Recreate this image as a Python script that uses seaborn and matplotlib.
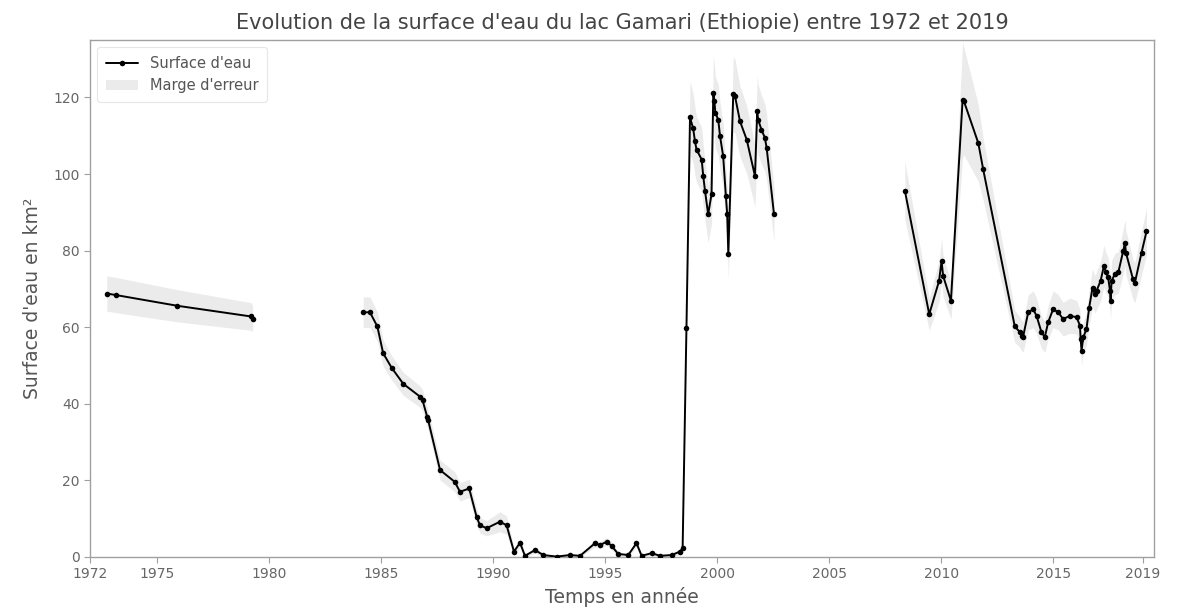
import numpy as np
import pandas as pd
import matplotlib
matplotlib.use("Agg")
import matplotlib.pyplot as plt
import seaborn as sns
from matplotlib.lines import Line2D
from matplotlib.patches import Patch

# Lake Gamari water surface (km²), three observation periods
years_1972 = [1972.75, 1973.16, 1975.90, 1979.20, 1979.26]
surface_1972 = [68.8, 68.4, 65.6, 62.8, 62.2]
error_1972 = [4.6, 4.6, 4.2, 3.6, 3.4]

years_1984 = [1984.20, 1984.50, 1984.83, 1985.09, 1985.47, 1985.99, 1986.73,
              1986.85, 1987.06, 1987.10, 1987.63, 1988.29, 1988.52, 1988.93,
              1989.26, 1989.41, 1989.71, 1990.30, 1990.60, 1990.93, 1991.20,
              1991.42, 1991.87, 1992.24, 1992.83, 1993.43, 1993.88, 1994.55,
              1994.77, 1995.07, 1995.29, 1995.58, 1996.03, 1996.40, 1996.63,
              1997.08, 1997.45, 1997.97, 1998.34, 1998.46, 1998.63, 1998.79,
              1998.93, 1999.01, 1999.08, 1999.31, 1999.38, 1999.46, 1999.60,
              1999.75, 1999.83, 1999.88, 1999.92, 2000.05, 2000.13, 2000.27,
              2000.39, 2000.45, 2000.50, 2000.72, 2000.80, 2001.02, 2001.32,
              2001.69, 2001.79, 2001.83, 2001.98, 2002.13, 2002.21, 2002.54]
surface_1984 = [63.9, 63.9, 60.2, 53.2, 49.4, 45.2, 41.9,
                40.9, 36.5, 35.7, 22.7, 19.6, 17.0, 17.9,
                10.5, 8.3, 7.5, 9.2, 8.3, 1.4, 3.7,
                0.3, 1.8, 0.5, 0.1, 0.5, 0.3, 3.6,
                3.1, 4.0, 2.9, 0.8, 0.5, 3.6, 0.3,
                1.0, 0.3, 0.5, 1.4, 2.3, 59.7, 114.8,
                111.9, 108.6, 106.4, 103.8, 99.5, 95.6, 89.5,
                94.7, 121.2, 119.0, 116.0, 114.2, 109.9, 104.7,
                94.3, 89.5, 79.1, 120.8, 120.3, 113.8, 109.0,
                99.5, 116.4, 114.2, 111.6, 109.5, 106.9, 89.5]
error_1984 = [4.0, 4.0, 3.8, 3.4, 3.2, 3.0, 2.8,
              2.8, 2.6, 2.6, 2.6, 2.6, 2.4, 2.4,
              2.2, 2.0, 2.0, 2.6, 2.4, 1.0, 1.2,
              0.4, 0.8, 0.4, 0.3, 0.4, 0.3, 1.0,
              1.0, 1.0, 1.0, 0.5, 0.4, 1.0, 0.3,
              0.5, 0.3, 0.4, 0.8, 1.2, 5.0, 9.5,
              9.0, 8.8, 8.6, 8.4, 8.0, 7.8, 7.4,
              7.6, 9.8, 9.6, 9.4, 9.2, 8.8, 8.4,
              7.6, 7.2, 6.6, 9.8, 9.6, 9.2, 8.8,
              8.0, 9.4, 9.2, 9.0, 8.8, 8.6, 7.2]

years_2008 = [2008.38, 2009.47, 2009.91, 2010.02, 2010.09, 2010.44, 2010.96,
              2011.02, 2011.66, 2011.88, 2013.29, 2013.52, 2013.59, 2013.66,
              2013.89, 2014.11, 2014.26, 2014.48, 2014.63, 2014.78, 2015.00,
              2015.23, 2015.45, 2015.75, 2016.05, 2016.20, 2016.23, 2016.27,
              2016.35, 2016.49, 2016.61, 2016.76, 2016.87, 2016.94, 2017.12,
              2017.27, 2017.36, 2017.46, 2017.54, 2017.57, 2017.61, 2017.76,
              2017.91, 2018.13, 2018.21, 2018.25, 2018.57, 2018.65, 2018.95,
              2019.17]
surface_2008 = [95.7, 63.4, 72.1, 77.3, 73.4, 66.9, 119.4,
                119.0, 108.1, 101.2, 60.2, 58.7, 57.8, 57.5,
                63.9, 64.7, 63.0, 58.7, 57.4, 61.3, 64.7,
                63.9, 62.1, 63.0, 62.6, 60.4, 56.9, 53.9,
                57.4, 59.5, 65.1, 70.3, 68.6, 69.5, 72.1,
                76.0, 74.3, 73.0, 69.5, 66.9, 72.1, 73.9,
                74.3, 79.9, 82.1, 79.5, 72.5, 71.6, 79.5,
                85.0]
error_2008 = [7.6, 4.2, 5.4, 5.8, 5.4, 4.8, 15.0,
              14.0, 10.0, 8.0, 4.2, 4.0, 4.0, 4.0,
              4.6, 4.8, 4.6, 4.2, 4.0, 4.4, 4.8,
              4.6, 4.4, 4.6, 4.4, 4.2, 4.0, 3.8,
              4.0, 4.2, 4.6, 5.0, 4.8, 5.0, 5.2,
              5.4, 5.2, 5.2, 5.0, 4.8, 5.2, 5.4,
              5.4, 5.8, 6.0, 5.8, 5.2, 5.2, 5.8,
              6.0]

x_ticks = [1972, 1975, 1980, 1985, 1990, 1995, 2000, 2005, 2010, 2015, 2019]
y_ticks = [0, 20, 40, 60, 80, 100, 120]

segments = [(years_1972, surface_1972, error_1972),
            (years_1984, surface_1984, error_1984),
            (years_2008, surface_2008, error_2008)]
df = pd.concat(
    [pd.DataFrame({"annee": yr, "surface": s, "erreur": e, "periode": i})
     for i, (yr, s, e) in enumerate(segments)],
    ignore_index=True)

sns.set_style("ticks")
plt.rcParams["font.family"] = ["DejaVu Sans"]

text_grey = "#555555"
tick_grey = "#666666"
spine_grey = "#a0a0a0"

fig = plt.figure(figsize=(11.87, 6.13), dpi=100)
ax = fig.add_axes([0.0758, 0.0914, 0.8963, 0.8433])

band_color = "#ebebeb"
for _, g in df.groupby("periode"):
    ax.fill_between(g["annee"], g["surface"] - g["erreur"],
                    g["surface"] + g["erreur"], color=band_color,
                    linewidth=0, zorder=1)

sns.lineplot(data=df, x="annee", y="surface", units="periode",
             estimator=None, color="black", linewidth=1.4,
             marker="o", markersize=4, markeredgewidth=0,
             ax=ax, zorder=3, legend=False)

ax.set_xlim(1972, 2019.5)
ax.set_ylim(0, 135)
ax.set_xticks(x_ticks)
ax.set_yticks(y_ticks)
ax.tick_params(axis="both", labelsize=10, colors=tick_grey, length=4,
               width=0.8, color=spine_grey)
for side in ax.spines.values():
    side.set_color(spine_grey)
    side.set_linewidth(1.0)

ax.set_title("Evolution de la surface d'eau du lac Gamari (Ethiopie) entre 1972 et 2019",
             fontsize=15, color="#444444", pad=8)
ax.set_xlabel("Temps en année", fontsize=13.5, color=text_grey, labelpad=4)
ax.set_ylabel("Surface d'eau en km²", fontsize=13.5, color=text_grey, labelpad=8)

handles = [Line2D([0], [0], color="black", linewidth=1.4, marker="o",
                  markersize=4, markeredgewidth=0),
           Patch(facecolor=band_color, edgecolor="none")]
leg = ax.legend(handles, ["Surface d'eau", "Marge d'erreur"], loc="upper left",
                fontsize=10.5, frameon=True, labelcolor=text_grey,
                borderpad=0.6, handlelength=2.2)
leg.get_frame().set_edgecolor("#e0e0e0")
leg.get_frame().set_linewidth(0.8)

fig.savefig("out.png", dpi=100)
